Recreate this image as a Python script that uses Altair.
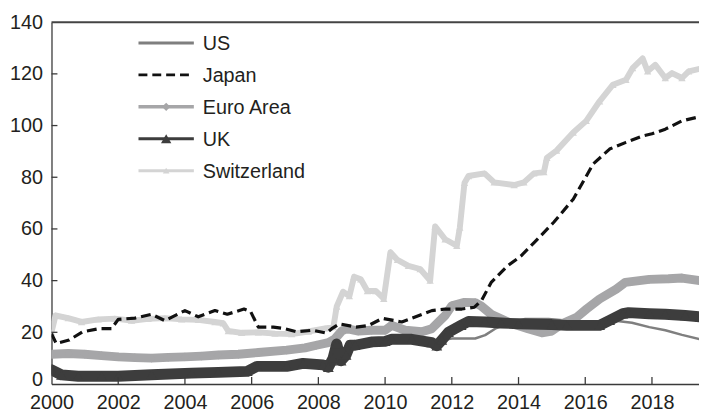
import altair as alt
import pandas as pd

# ---------------- data ----------------
series_names = ["US", "Japan", "Euro Area", "UK", "Switzerland"]

us_years = [2000.0, 2001.0, 2002.0, 2003.0, 2004.0, 2005.0, 2006.0, 2007.0, 2008.0, 2008.5,
            2008.7, 2008.9, 2009.5, 2010.0, 2010.8, 2011.5, 2012.0, 2012.7, 2013.0, 2013.3,
            2013.7, 2014.2, 2014.9, 2015.5, 2016.3, 2016.9, 2017.4, 2017.92, 2018.4, 2018.9, 2019.45]
us_vals = [4.5, 3.5, 3.5, 3.8, 4.0, 4.3, 5.5, 6.5, 6.8, 7.5,
           10.0, 15.0, 15.5, 16.0, 16.5, 16.5, 17.6, 17.6, 18.9, 21.4,
           23.5, 25.2, 25.2, 24.5, 23.5, 24.5, 23.7, 22.0, 20.8, 19.0, 17.3]

jp_years = [2000.0, 2000.14, 2000.53, 2000.93, 2001.42, 2001.8, 2002.0, 2002.5, 2003.0, 2003.4,
            2004.0, 2004.4, 2004.9, 2005.27, 2005.77, 2005.97, 2006.2, 2006.65, 2006.95, 2007.35,
            2007.84, 2008.24, 2008.4, 2008.63, 2009.13, 2009.5, 2009.92, 2010.5, 2010.9, 2011.4,
            2011.8, 2012.3, 2012.68, 2012.9, 2013.18, 2013.66, 2014.07, 2014.46, 2015.05, 2015.64,
            2016.24, 2016.73, 2017.22, 2017.72, 2018.0, 2018.4, 2018.9, 2019.45]
jp_vals = [19.5, 15.7, 17.0, 20.2, 21.4, 21.4, 25.0, 25.5, 27.0, 24.5,
           28.4, 26.0, 28.4, 27.0, 29.0, 28.0, 22.0, 22.0, 21.5, 20.2,
           20.8, 19.7, 21.4, 23.3, 22.0, 22.6, 25.4, 24.0, 25.9, 28.4,
           29.0, 29.0, 29.7, 32.5, 39.3, 45.6, 49.5, 54.6, 62.5, 71.5,
           85.2, 90.9, 93.5, 96.0, 96.8, 98.6, 101.8, 103.5]

ea_years = [2000.0, 2000.5, 2001.0, 2001.5, 2002.0, 2002.5, 2003.0, 2003.5, 2004.0, 2004.5,
            2005.0, 2005.6, 2006.2, 2007.05, 2007.6, 2007.94, 2008.3, 2008.5, 2008.7, 2008.85,
            2009.2, 2009.6, 2010.0, 2010.2, 2010.6, 2011.1, 2011.4, 2011.8, 2012.0, 2012.38,
            2012.7, 2012.9, 2013.18, 2013.77, 2014.26, 2014.7, 2015.0, 2015.3, 2015.74, 2016.04,
            2016.43, 2016.93, 2017.2, 2017.92, 2018.5, 2018.9, 2019.45]
ea_vals = [11.5, 11.8, 11.5, 11.0, 10.5, 10.2, 10.0, 10.3, 10.5, 10.8,
           11.2, 11.5, 12.2, 13.1, 14.0, 15.0, 16.0, 17.5, 20.5, 21.4,
           20.5, 20.8, 20.8, 22.7, 20.8, 20.2, 21.4, 26.5, 30.3, 31.6,
           31.5, 30.0, 27.0, 23.5, 21.5, 19.8, 20.5, 23.3, 25.8, 29.0,
           32.9, 36.7, 39.3, 40.5, 40.7, 41.0, 40.0]

uk_years = [2000.0, 2000.3, 2000.8, 2001.5, 2002.0, 2003.0, 2004.2, 2005.0, 2005.87, 2006.16,
            2007.05, 2007.54, 2008.14, 2008.3, 2008.44, 2008.55, 2008.68, 2008.83, 2008.95, 2009.1,
            2009.62, 2010.0, 2010.2, 2010.8, 2011.4, 2011.55, 2011.7, 2011.9, 2012.28, 2012.5,
            2013.0, 2013.47, 2014.0, 2015.0, 2015.45, 2016.43, 2016.73, 2017.13, 2017.3, 2017.92,
            2018.4, 2019.0, 2019.45]
uk_vals = [5.5, 3.5, 3.0, 3.0, 3.0, 3.6, 4.2, 4.5, 4.9, 6.8,
           6.8, 8.0, 7.4, 6.5, 10.0, 15.5, 9.0, 11.2, 15.0, 15.0,
           16.3, 16.5, 17.3, 17.3, 16.0, 14.8, 17.0, 20.0, 22.7, 24.2,
           24.0, 23.6, 23.3, 23.0, 22.7, 22.7, 24.6, 27.2, 27.6, 27.2,
           27.0, 26.5, 26.0]

ch_years = [2000.0, 2000.12, 2000.5, 2000.9, 2001.4, 2001.9, 2002.4, 2002.9, 2003.4, 2003.9,
            2004.4, 2004.9, 2005.15, 2005.3, 2005.7, 2006.2, 2006.7, 2007.2, 2007.7, 2008.2,
            2008.45, 2008.55, 2008.74, 2008.93, 2009.07, 2009.27, 2009.47, 2009.72, 2009.96, 2010.16,
            2010.37, 2010.7, 2011.05, 2011.35, 2011.5, 2011.8, 2012.15, 2012.24, 2012.38, 2012.5,
            2012.98, 2013.27, 2013.87, 2014.16, 2014.46, 2014.76, 2014.85, 2015.14, 2015.64, 2016.03,
            2016.43, 2016.83, 2017.22, 2017.42, 2017.72, 2017.87, 2018.1, 2018.4, 2018.6, 2018.9,
            2019.1, 2019.45]
ch_vals = [20.0, 26.5, 25.5, 24.0, 25.0, 25.3, 24.5, 25.2, 25.5, 25.0,
           24.8, 24.0, 23.5, 20.5, 19.8, 20.0, 19.5, 19.3, 20.3, 21.5,
           22.0, 30.0, 35.7, 34.0, 41.5, 40.5, 36.0, 36.0, 33.0, 51.0,
           48.0, 45.7, 44.5, 40.0, 61.0, 56.0, 53.5, 60.5, 77.8, 80.5,
           81.5, 78.0, 77.0, 78.0, 81.5, 82.0, 87.5, 90.3, 97.3, 101.8,
           109.4, 115.8, 117.7, 122.2, 126.0, 121.0, 123.5, 118.4, 120.3, 118.4,
           121.0, 122.0]

x_tick_values = [2000, 2002, 2004, 2006, 2008, 2010, 2012, 2014, 2016, 2018]
y_tick_values = [0, 20, 40, 60, 80, 100, 120, 140]

# ---------------- layout / style ----------------
W, H = 655, 366
FONT = "Liberation Sans"
TXT = "#231f20"
AX = "#3a3a3a"

x_scale = alt.Scale(domain=[2000, 2019.41], nice=False, zero=False)
y_scale = alt.Scale(domain=[0, 140], nice=False, zero=True)

x_axis = alt.Axis(values=x_tick_values, format="d", title=None, grid=False,
                  ticks=False, tickSize=0, labelPadding=9, labelFlush=False,
                  labelOverlap=False, labelFont=FONT, labelFontSize=20,
                  labelColor=TXT, domainColor=AX, domainWidth=1.3)
y_axis = alt.Axis(values=y_tick_values, title=None, grid=False,
                  ticks=False, tickSize=0, labelPadding=9, labelFlush=False,
                  labelOverlap=False, labelFont=FONT, labelFontSize=20,
                  labelColor=TXT, domainColor=AX, domainWidth=1.3,
                  labelOffset={"condition": {"test": "datum.value == 0", "value": -4}, "value": 0})


def X(field="year"):
    return alt.X(f"{field}:Q", scale=x_scale, axis=x_axis)


def Y(field="value"):
    return alt.Y(f"{field}:Q", scale=y_scale, axis=y_axis)


def frame(xs, ys):
    return pd.DataFrame({"year": xs, "value": ys})


def line_layer(xs, ys, color, width, dash=None):
    kw = dict(color=color, strokeWidth=width, clip=True, strokeJoin="round", strokeCap="round")
    if dash:
        kw["strokeDash"] = dash
        kw["strokeCap"] = "butt"
    return alt.Chart(frame(xs, ys)).mark_line(**kw).encode(x=X(), y=Y())


def point_layer(xs, ys, color, shape, size):
    return alt.Chart(frame(xs, ys)).mark_point(
        shape=shape, filled=True, color=color, size=size, opacity=1, clip=True
    ).encode(x=X(), y=Y())


C_US, C_JP, C_EA, C_UK, C_CH = "#7f7f7f", "#111111", "#a6a6a8", "#3d3d3d", "#d4d4d4"

layers = [
    line_layer(ch_years, ch_vals, C_CH, 6),
    point_layer(ch_years, ch_vals, C_CH, "triangle-up", 55),
    line_layer(us_years, us_vals, C_US, 2.5),
    line_layer(ea_years, ea_vals, C_EA, 9),
    point_layer(ea_years, ea_vals, C_EA, "diamond", 80),
    line_layer(uk_years, uk_vals, C_UK, 11),
    point_layer(uk_years, uk_vals, C_UK, "triangle-up", 120),
    line_layer(jp_years, jp_vals, C_JP, 3.2, dash=[10, 5]),
]

# inward tick marks
xt = pd.DataFrame({"year": x_tick_values[1:]})
layers.append(alt.Chart(xt).mark_rule(color=AX, strokeWidth=1.3).encode(
    x=X(), y=alt.value(H), y2=alt.value(H - 7)))
yt = pd.DataFrame({"value": y_tick_values[1:-1]})
layers.append(alt.Chart(yt).mark_rule(color=AX, strokeWidth=1.3).encode(
    y=Y(), x=alt.value(0), x2=alt.value(6)))

# top frame line
layers.append(alt.Chart(pd.DataFrame({"k": [0]})).mark_rule(color="#444444", strokeWidth=2).encode(
    x=alt.value(0), x2=alt.value(W), y=alt.value(0)))

# legend (inside the plot, top-left)
leg_styles = [
    dict(color=C_US, width=3, dash=None, shape=None, size=0),
    dict(color=C_JP, width=3, dash=[9, 5], shape=None, size=0),
    dict(color=C_EA, width=3.5, dash=None, shape="diamond", size=70),
    dict(color=C_UK, width=3, dash=None, shape="triangle-up", size=110),
    dict(color=C_CH, width=3, dash=None, shape="triangle-up", size=45),
]
for i, (name, st) in enumerate(zip(series_names, leg_styles)):
    yy = 21 + 32.3 * i
    d = pd.DataFrame({"name": [name]})
    rk = dict(color=st["color"], strokeWidth=st["width"])
    if st["dash"]:
        rk["strokeDash"] = st["dash"]
    layers.append(alt.Chart(d).mark_rule(**rk).encode(
        x=alt.value(88), x2=alt.value(144), y=alt.value(yy)))
    if st["shape"]:
        layers.append(alt.Chart(d).mark_point(shape=st["shape"], filled=True, opacity=1,
                                              color=st["color"], size=st["size"]).encode(
            x=alt.value(116), y=alt.value(yy)))
    layers.append(alt.Chart(d).mark_text(align="left", baseline="middle", font=FONT,
                                         fontSize=20, color=TXT).encode(
        x=alt.value(153), y=alt.value(yy + 1), text="name:N"))

chart = alt.layer(*layers).properties(
    width=W, height=H,
    autosize=alt.AutoSizeParams(type="none"),
    padding={"left": 44, "top": 12, "right": 0, "bottom": 28},
    background="white",
).configure_view(stroke=None)

chart.save("out.html", embed_options={"renderer": "svg", "actions": False})
